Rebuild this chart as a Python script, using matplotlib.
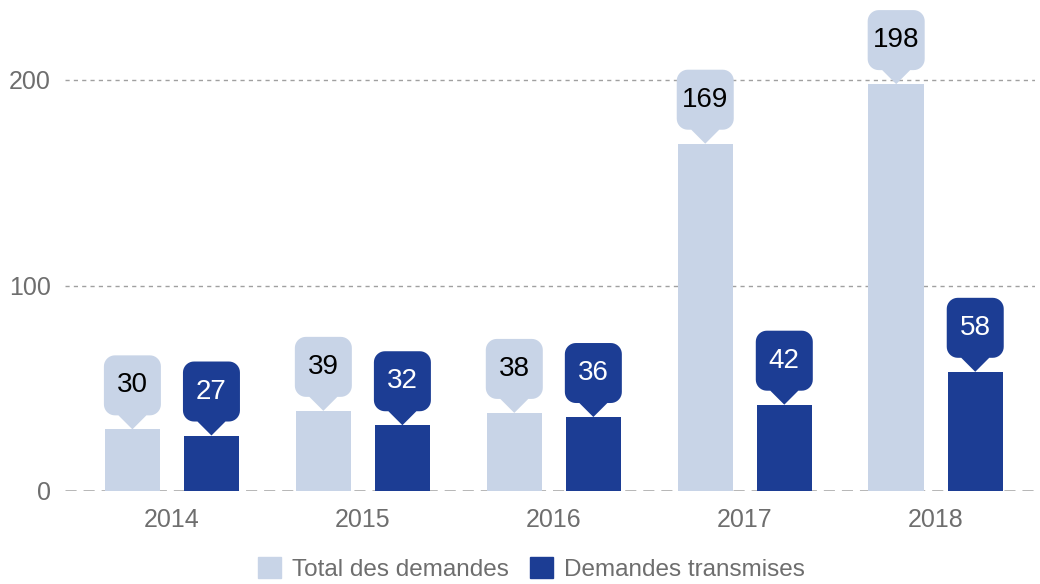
import matplotlib.pyplot as plt
import numpy as np
from matplotlib.path import Path
from matplotlib.patches import PathPatch, Patch
from matplotlib.transforms import ScaledTranslation

plt.rcParams['font.family'] = ['Liberation Sans', 'DejaVu Sans']

years = ['2014', '2015', '2016', '2017', '2018']
total = [30, 39, 38, 169, 198]
transmises = [27, 32, 36, 42, 58]

light = '#c8d4e7'
dark = '#1c3d94'

fig = plt.figure(figsize=(10.4, 5.84), dpi=100)
ax = fig.add_axes([65 / 1040, 93 / 584, 970 / 1040, 491 / 584])

x = np.arange(len(years))
w = 0.29
off = 0.207
ax.bar(x - off, total, w, color=light, zorder=2)
ax.bar(x + off, transmises, w, color=dark, zorder=2)

ax.set_xlim(-0.56, len(years) - 0.48)
ax.set_ylim(0, 491 / 2.055)


def callout_path():
    # shape in inches, tip at (0, 0)
    hw, y0, y1, r, pw, ph = 0.285, 0.14, 0.74, 0.11, 0.14, 0.14
    pts = [(0, 0), (pw, ph)]
    corners = [(hw - r, y0 + r, -90, 0), (hw - r, y1 - r, 0, 90),
               (-hw + r, y1 - r, 90, 180), (-hw + r, y0 + r, 180, 270)]
    for cx, cy, a0, a1 in corners:
        t = np.radians(np.linspace(a0, a1, 10))
        pts += list(zip(cx + r * np.cos(t), cy + r * np.sin(t)))
    pts += [(-pw, ph), (0, 0)]
    codes = [Path.MOVETO] + [Path.LINETO] * (len(pts) - 2) + [Path.CLOSEPOLY]
    return Path(pts, codes)


shape = callout_path()
for xs, vals, fc, tc in [(x - off, total, light, 'black'), (x + off, transmises, dark, 'white')]:
    for xi, v in zip(xs, vals):
        tr = fig.dpi_scale_trans + ScaledTranslation(xi, v, ax.transData)
        ax.add_patch(PathPatch(shape, transform=tr, facecolor=fc, edgecolor='none',
                               clip_on=False, zorder=3))
        ax.text(0, 0.44, str(v), transform=tr, ha='center', va='center',
                fontsize=20, color=tc, zorder=4, clip_on=False)

for y in [100, 200]:
    ax.axhline(y, color='#a0a0a0', lw=1, ls=(0, (3, 3)), zorder=1)
ax.axhline(0, color='#b0b0b0', lw=2, ls=(0, (4, 2.5)), zorder=1)

ax.set_yticks([0, 100, 200])
ax.set_xticks(x)
ax.set_xticklabels(years)
ax.tick_params(length=0, labelsize=18, labelcolor='#6e6e6e')
ax.tick_params(axis='y', pad=10)
ax.tick_params(axis='x', pad=12)
for s in ax.spines.values():
    s.set_visible(False)

handles = [Patch(color=light, label='Total des demandes'),
           Patch(color=dark, label='Demandes transmises')]
leg = fig.legend(handles=handles, loc='lower center', bbox_to_anchor=(0.511, -0.032), ncol=2,
                 frameon=False, fontsize=17.5, handlelength=0.95, handleheight=0.95,
                 handletextpad=0.45, columnspacing=0.9)
for t in leg.get_texts():
    t.set_color('#6e6e6e')

fig.savefig('out.png', dpi=100)
